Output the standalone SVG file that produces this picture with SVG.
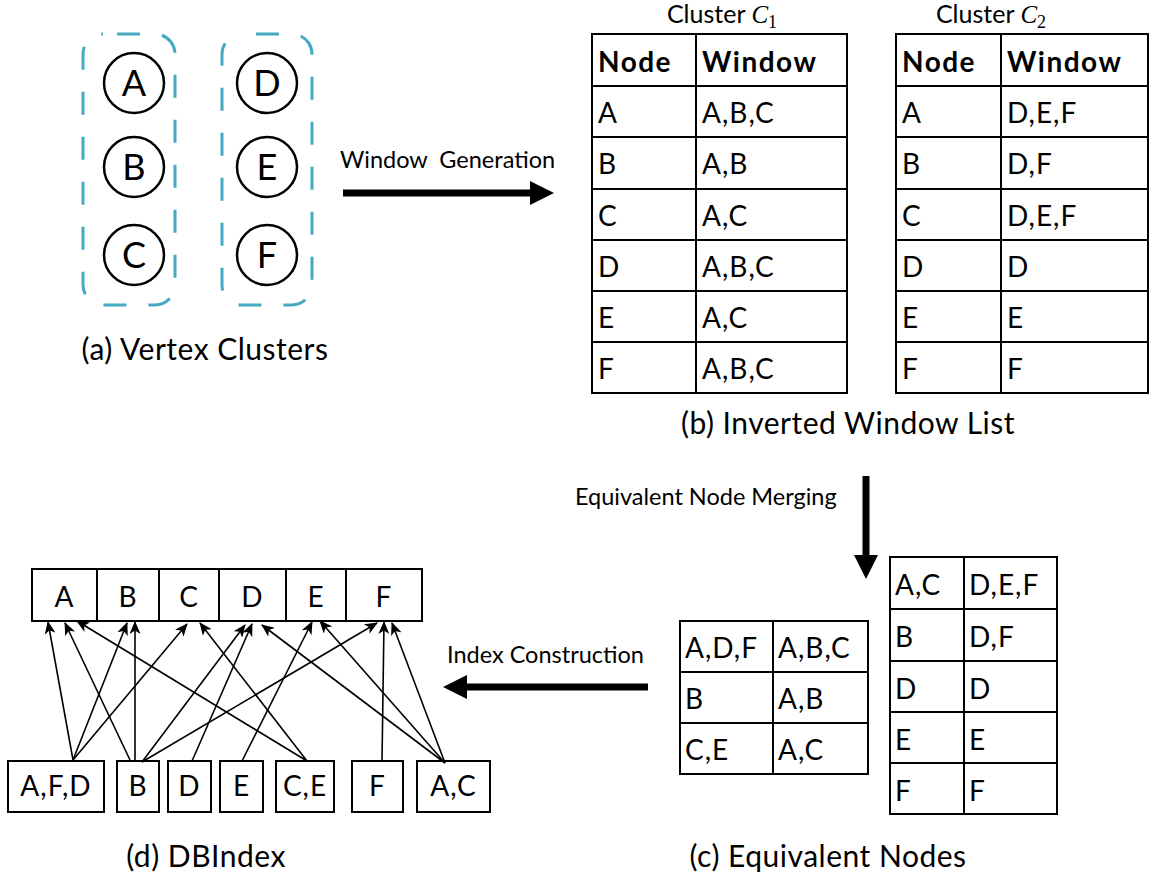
<svg xmlns="http://www.w3.org/2000/svg" width="1155" height="885" viewBox="0 0 1155 885">
<defs>
<style>
text{font-family:Lato,"Liberation Sans",sans-serif;fill:#000}
.cell{font-size:28px;letter-spacing:1px}
.hdr{font-size:28px;font-weight:bold;letter-spacing:1.5px}
.cap{font-size:30px;text-anchor:middle;letter-spacing:0.5px}
.lbl{font-size:23.5px}
.title{font-size:25px}
.circ{fill:#fff;stroke:#000;stroke-width:2.5}
.cl{fill:none;stroke:#45A9C2;stroke-width:3;stroke-dasharray:23 22;stroke-dashoffset:31}
.tb{fill:#fff;stroke:#000;stroke-width:2}
.ln{stroke:#000;stroke-width:2;fill:none}
.big{font-size:36px;text-anchor:middle}
.ctr{text-anchor:middle}
.edge{stroke:#000;stroke-width:1.6;fill:none;marker-end:url(#ah)}
</style>
<marker id="ah" markerUnits="userSpaceOnUse" markerWidth="13" markerHeight="11" refX="12" refY="5.5" orient="auto">
<path d="M0,0 L13,5.5 L0,11 L3.5,5.5 z" fill="#000"/>
</marker>
</defs>

<!-- (a) Vertex clusters -->
<g id="cluster1">
<rect class="cl" x="83" y="34" width="92" height="271" rx="20"/>
</g>
<g id="cluster2">
<rect class="cl" x="222" y="34" width="90" height="271" rx="20"/>
</g>
<g id="nodeA"><circle class="circ" cx="134" cy="83" r="30"/><text class="big" x="134" y="96">A</text></g>
<g id="nodeB"><circle class="circ" cx="134" cy="167" r="30"/><text class="big" x="134" y="180">B</text></g>
<g id="nodeC"><circle class="circ" cx="134" cy="255" r="30"/><text class="big" x="134" y="268">C</text></g>
<g id="nodeD"><circle class="circ" cx="267" cy="83" r="30"/><text class="big" x="267" y="96">D</text></g>
<g id="nodeE"><circle class="circ" cx="267" cy="167" r="30"/><text class="big" x="267" y="180">E</text></g>
<g id="nodeF"><circle class="circ" cx="267" cy="255" r="30"/><text class="big" x="267" y="268">F</text></g>
<text class="cap" x="205" y="360">(a) Vertex Clusters</text>

<!-- Window generation arrow -->
<g id="arrow-window">
<text class="lbl" x="340" y="168" xml:space="preserve">Window  Generation</text>
<line x1="343" y1="193" x2="533" y2="193" stroke="#000" stroke-width="7"/>
<polygon points="530,181 554,193 530,205" fill="#000"/>
</g>

<!-- (b) Table C1 -->
<g id="tableC1">
<text class="title ctr" x="722" y="23">Cluster <tspan font-family="'Liberation Serif',serif" font-style="italic">C</tspan><tspan font-family="'Liberation Serif',serif" font-size="18" dy="5">1</tspan></text>
<rect class="tb" x="592" y="34" width="255" height="359"/>
<path class="ln" d="M696,34V393 M592,86H847 M592,137H847 M592,189H847 M592,240H847 M592,291H847 M592,342H847"/>
<text class="hdr" x="598" y="72">Node</text><text class="hdr" x="702" y="72">Window</text>
<text class="cell" x="598" y="123">A</text><text class="cell" x="702" y="123">A,B,C</text>
<text class="cell" x="598" y="174">B</text><text class="cell" x="702" y="174">A,B</text>
<text class="cell" x="598" y="226">C</text><text class="cell" x="702" y="226">A,C</text>
<text class="cell" x="598" y="277">D</text><text class="cell" x="702" y="277">A,B,C</text>
<text class="cell" x="598" y="328">E</text><text class="cell" x="702" y="328">A,C</text>
<text class="cell" x="598" y="379">F</text><text class="cell" x="702" y="379">A,B,C</text>
</g>

<!-- (b) Table C2 -->
<g id="tableC2">
<text class="title ctr" x="991" y="23">Cluster <tspan font-family="'Liberation Serif',serif" font-style="italic">C</tspan><tspan font-family="'Liberation Serif',serif" font-size="18" dy="5">2</tspan></text>
<rect class="tb" x="896" y="34" width="252" height="359"/>
<path class="ln" d="M1001,34V393 M896,86H1148 M896,137H1148 M896,189H1148 M896,240H1148 M896,291H1148 M896,342H1148"/>
<text class="hdr" x="902" y="72">Node</text><text class="hdr" x="1007" y="72">Window</text>
<text class="cell" x="902" y="123">A</text><text class="cell" x="1007" y="123">D,E,F</text>
<text class="cell" x="902" y="174">B</text><text class="cell" x="1007" y="174">D,F</text>
<text class="cell" x="902" y="226">C</text><text class="cell" x="1007" y="226">D,E,F</text>
<text class="cell" x="902" y="277">D</text><text class="cell" x="1007" y="277">D</text>
<text class="cell" x="902" y="328">E</text><text class="cell" x="1007" y="328">E</text>
<text class="cell" x="902" y="379">F</text><text class="cell" x="1007" y="379">F</text>
</g>
<text class="cap" x="848" y="434">(b) Inverted Window List</text>

<!-- Equivalent node merging arrow -->
<g id="arrow-merge">
<text class="lbl" x="575" y="505">Equivalent Node Merging</text>
<line x1="866" y1="476" x2="866" y2="558" stroke="#000" stroke-width="7"/>
<polygon points="854,555 866,579 878,555" fill="#000"/>
</g>

<!-- (c) Equivalent nodes tables -->
<g id="eqTable1">
<rect class="tb" x="680" y="621" width="188" height="153"/>
<path class="ln" d="M773,621V774 M680,672H868 M680,723H868"/>
<text class="cell" x="685" y="658">A,D,F</text><text class="cell" x="778" y="658">A,B,C</text>
<text class="cell" x="685" y="709">B</text><text class="cell" x="778" y="709">A,B</text>
<text class="cell" x="685" y="760">C,E</text><text class="cell" x="778" y="760">A,C</text>
</g>
<g id="eqTable2">
<rect class="tb" x="890" y="557" width="167" height="257"/>
<path class="ln" d="M964,557V814 M890,609H1057 M890,661H1057 M890,712H1057 M890,763H1057"/>
<text class="cell" x="895" y="595">A,C</text><text class="cell" x="969" y="595">D,E,F</text>
<text class="cell" x="895" y="647">B</text><text class="cell" x="969" y="647">D,F</text>
<text class="cell" x="895" y="699">D</text><text class="cell" x="969" y="699">D</text>
<text class="cell" x="895" y="750">E</text><text class="cell" x="969" y="750">E</text>
<text class="cell" x="895" y="801">F</text><text class="cell" x="969" y="801">F</text>
</g>
<text class="cap" x="828" y="867">(c) Equivalent Nodes</text>

<!-- Index construction arrow -->
<g id="arrow-index">
<text class="lbl" x="447" y="663">Index Construction</text>
<line x1="648" y1="687" x2="465" y2="687" stroke="#000" stroke-width="7"/>
<polygon points="467,675 443,687 467,699" fill="#000"/>
</g>

<!-- (d) DBIndex -->
<g id="index-top">
<rect class="tb" x="32" y="569" width="390" height="52"/>
<path class="ln" d="M97,569V621 M159,569V621 M219,569V621 M286,569V621 M346,569V621"/>
<text class="cell ctr" x="64.5" y="607">A</text>
<text class="cell ctr" x="128" y="607">B</text>
<text class="cell ctr" x="189" y="607">C</text>
<text class="cell ctr" x="252.5" y="607">D</text>
<text class="cell ctr" x="316" y="607">E</text>
<text class="cell ctr" x="384" y="607">F</text>
</g>
<g id="idx-AFD"><rect class="tb" x="8" y="761" width="96" height="51"/><text class="cell ctr" x="56" y="796">A,F,D</text></g>
<g id="idx-B"><rect class="tb" x="117" y="761" width="42" height="51"/><text class="cell ctr" x="138" y="796">B</text></g>
<g id="idx-D"><rect class="tb" x="168" y="761" width="43" height="51"/><text class="cell ctr" x="189.5" y="796">D</text></g>
<g id="idx-E"><rect class="tb" x="220" y="761" width="43" height="51"/><text class="cell ctr" x="241.5" y="796">E</text></g>
<g id="idx-CE"><rect class="tb" x="276" y="761" width="58" height="51"/><text class="cell ctr" x="305" y="796">C,E</text></g>
<g id="idx-F"><rect class="tb" x="352" y="761" width="51" height="51"/><text class="cell ctr" x="377.5" y="796">F</text></g>
<g id="idx-AC"><rect class="tb" x="417" y="761" width="73" height="51"/><text class="cell ctr" x="453.5" y="796">A,C</text></g>

<g id="connectors">
<line class="edge" x1="73" y1="760" x2="48" y2="622"/>
<line class="edge" x1="73" y1="760" x2="127" y2="623"/>
<line class="edge" x1="73" y1="760" x2="187" y2="624"/>
<line class="edge" x1="130" y1="760" x2="65" y2="623"/>
<line class="edge" x1="135" y1="760" x2="135" y2="622"/>
<line class="edge" x1="142" y1="762" x2="245" y2="625"/>
<line class="edge" x1="142" y1="762" x2="377" y2="623"/>
<line class="edge" x1="192" y1="761" x2="252" y2="624"/>
<line class="edge" x1="242" y1="761" x2="312" y2="622"/>
<line class="edge" x1="307" y1="761" x2="77" y2="621"/>
<line class="edge" x1="307" y1="761" x2="200" y2="623"/>
<line class="edge" x1="382" y1="761" x2="384" y2="622"/>
<line class="edge" x1="445" y1="763" x2="262" y2="625"/>
<line class="edge" x1="445" y1="763" x2="320" y2="621"/>
<line class="edge" x1="445" y1="763" x2="392" y2="623"/>
</g>
<text class="cap" x="206" y="867">(d) DBIndex</text>
</svg>
